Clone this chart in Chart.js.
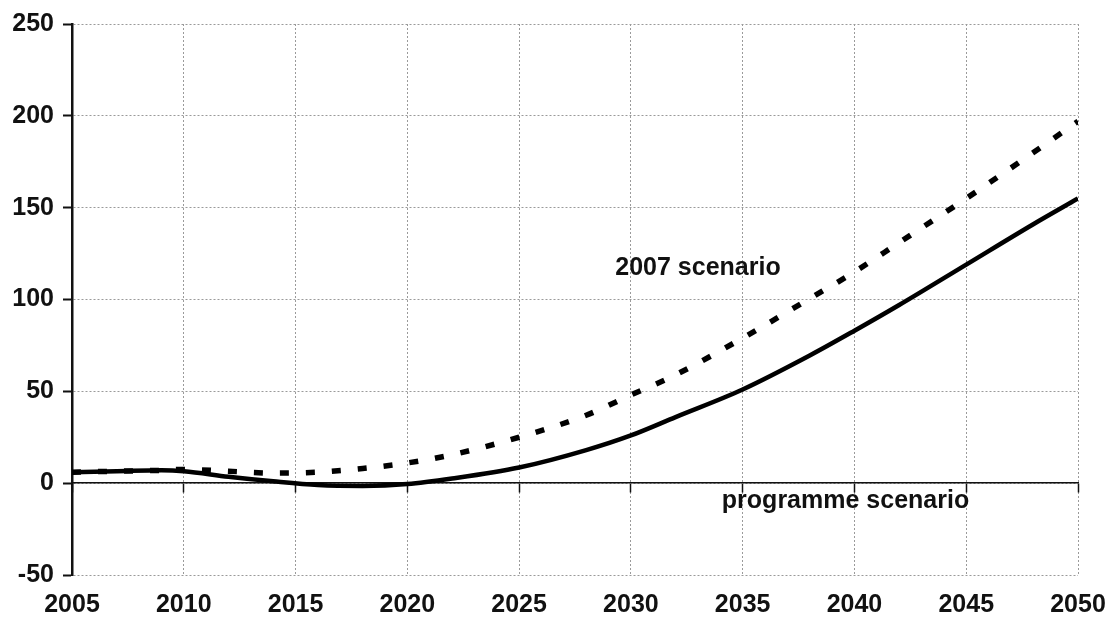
<!DOCTYPE html>
<html>
<head>
<meta charset="utf-8">
<script src="https://cdn.jsdelivr.net/npm/chart.js@4/dist/chart.umd.min.js"></script>
<style>
  html, body { margin: 0; padding: 0; background: #fff; }
  #wrap { width: 1107px; height: 618px; }
</style>
</head>
<body>
<div id="wrap"><canvas id="canvas"></canvas></div>
<script>
// data
var years = [2005, 2007, 2009, 2010, 2012, 2014, 2016, 2018, 2020, 2022, 2025, 2028, 2030, 2032, 2035, 2038, 2040, 2042, 2045, 2048, 2050];
var programme = [6, 6.5, 7, 6.5, 3.5, 1, -1, -1.5, -0.5, 2.5, 8.5, 18, 26, 36, 51, 69.5, 83, 97, 119, 141, 155];
var scen2007 = [6, 6.5, 7, 7.5, 6.5, 5.5, 6, 8, 11, 15.5, 25, 37, 48, 59, 79, 100.5, 115, 131, 155, 180, 197];

var xTicks = [2005, 2010, 2015, 2020, 2025, 2030, 2035, 2040, 2045, 2050];
var yTicks = [-50, 0, 50, 100, 150, 200, 250];

// text labels next to the lines: [text, year, value]
var notes = [
  ['2007 scenario', 2033.0, 117],
  ['programme scenario', 2039.6, -10]
];

function toPoints(xs, ys){
  var pts = [];
  for (var i = 0; i < xs.length; i++){
    pts.push({x: xs[i], y: ys[i]});
  }
  return pts;
}

var fontFam = '"Liberation Sans", Arial, sans-serif';
var gridGrey = '#9a9a9a';

var notesPlugin = {
  id: 'notes',
  afterDatasetsDraw: function(chart){
    var ctx = chart.ctx;
    var xs = chart.scales.x, ys = chart.scales.y;
    ctx.save();
    ctx.fillStyle = '#111';
    ctx.font = 'bold 25px ' + fontFam;
    ctx.textAlign = 'center';
    ctx.textBaseline = 'middle';
    for (let n of notes){
      ctx.fillText(n[0], xs.getPixelForValue(n[1]), ys.getPixelForValue(n[2]));
    }
    ctx.restore();
  }
};

var ctx = document.getElementById('canvas').getContext('2d');
window.myLine = new Chart(ctx, {
  type: 'line',
  data: {
    datasets: [{
      label: 'programme scenario',
      data: toPoints(years, programme),
      borderColor: '#000',
      borderWidth: 4.5,
      pointRadius: 0,
      fill: false,
      cubicInterpolationMode: 'monotone'
    }, {
      label: '2007 scenario',
      data: toPoints(years, scen2007),
      borderColor: '#000',
      borderWidth: 5.5,
      borderDash: [9, 17],
      borderCapStyle: 'butt',
      pointRadius: 0,
      fill: false,
      cubicInterpolationMode: 'monotone'
    }]
  },
  options: {
    responsive: true,
    maintainAspectRatio: false,
    animation: false,
    layout: { padding: { top: 24, right: 29, left: 0, bottom: 0 } },
    plugins: {
      legend: { display: false },
      tooltip: { enabled: false },
      title: { display: false }
    },
    scales: {
      x: {
        type: 'linear',
        position: 'bottom',
        min: 2005,
        max: 2050,
        afterBuildTicks: function(scale){
          scale.ticks = xTicks.map(function(v){ return {value: v}; });
        },
        afterFit: function(scale){
          scale.height = 43;
          scale.paddingLeft = 0;
          scale.paddingRight = 0;
        },
        grid: {
          color: gridGrey,
          lineWidth: 1,
          drawTicks: false
        },
        border: { display: false, dash: [2, 2] },
        ticks: {
          padding: 15,
          color: '#111',
          font: { family: fontFam, size: 25, weight: 'bold' },
          callback: function(v){ return String(v); }
        }
      },
      x0: {
        type: 'linear',
        position: { y: 0 },
        min: 2005,
        max: 2050,
        afterBuildTicks: function(scale){
          scale.ticks = xTicks.map(function(v){ return {value: v}; });
        },
        afterFit: function(scale){
          scale.paddingLeft = 0;
          scale.paddingRight = 0;
        },
        grid: {
          drawOnChartArea: false,
          drawTicks: true,
          tickLength: 9,
          tickColor: '#111',
          tickWidth: 1.5
        },
        border: { display: true, color: '#111', width: 1.5 },
        ticks: { display: false }
      },
      y: {
        min: -50,
        max: 250,
        afterBuildTicks: function(scale){
          scale.ticks = yTicks.map(function(v){ return {value: v}; });
        },
        afterFit: function(scale){ scale.width = 72; },
        grid: {
          color: gridGrey,
          lineWidth: 1,
          drawTicks: true,
          tickLength: 9,
          tickColor: '#111',
          tickWidth: 2
        },
        border: { display: true, color: '#111', width: 2.5, dash: [2, 2] },
        ticks: {
          padding: 9,
          color: '#111',
          font: { family: fontFam, size: 25, weight: 'bold' }
        }
      }
    }
  },
  plugins: [notesPlugin]
});
</script>
</body>
</html>
